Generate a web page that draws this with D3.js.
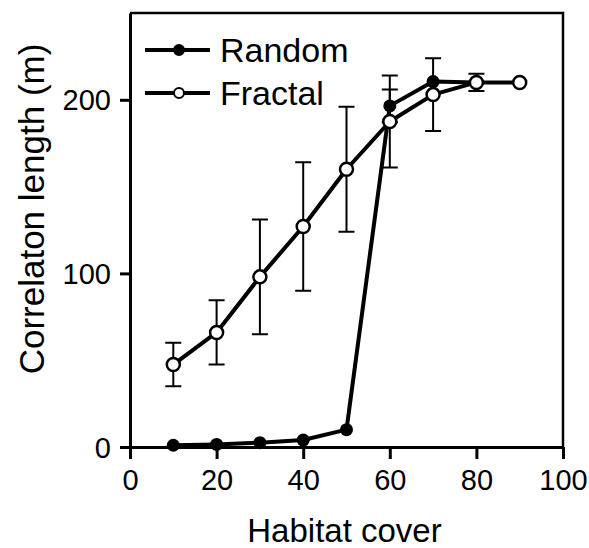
<!DOCTYPE html>
<html>
<head>
<meta charset="utf-8">
<script src="https://cdn.jsdelivr.net/npm/d3@7"></script>
<style>
  html, body { margin: 0; padding: 0; background: #fff; }
  svg { display: block; }
  text { font-family: "Liberation Sans", Arial, sans-serif; fill: #000; }
</style>
</head>
<body>
<svg id="chart" width="589" height="548"></svg>
<script>
// ---- data ----
const habitatCover = [10, 20, 30, 40, 50, 60, 70, 80, 90];
const randomX      = [10, 20, 30, 40, 50, 60, 70, 80];
const randomMean   = [1, 1.5, 2.5, 4, 10, 196.5, 210.5, 210];
const randomErr    = [0, 0, 0, 0, 0, 9.5, 0, 0];
const fractalMean  = [47.5, 66, 98, 127, 160, 187.5, 203, 210, 210];
const fractalErr   = [12.5, 18.5, 33, 37, 36, 26.5, 21, 5, 0];
const xTicks = [0, 20, 40, 60, 80, 100];
const yTicks = [0, 100, 200];
const seriesNames = ["Random", "Fractal"];

// ---- layout ----
const svg = d3.select("#chart");
const mLeft = 130, mRight = 563, mTop = 13, mBottom = 447;
const x = d3.scaleLinear().domain([0, 100]).range([mLeft, mRight]);
const y = d3.scaleLinear().domain([0, 250]).range([mBottom, mTop]);

// frame (top and right)
svg.append("path")
  .attr("d", `M${mLeft},${mTop}H${mRight}V${mBottom}`)
  .attr("fill", "none").attr("stroke", "#000").attr("stroke-width", 2.5);

// axes
const xAxis = svg.append("g").attr("transform", `translate(0,${mBottom})`)
  .call(d3.axisBottom(x).tickValues(xTicks).tickSize(12).tickPadding(10).tickSizeOuter(0));
const yAxis = svg.append("g").attr("transform", `translate(${mLeft},0)`)
  .call(d3.axisLeft(y).tickValues(yTicks).tickSize(10).tickPadding(9).tickSizeOuter(0));
[xAxis, yAxis].forEach(g => {
  g.select(".domain").attr("stroke", "#000").attr("stroke-width", 3);
  g.selectAll(".tick line").attr("stroke", "#000").attr("stroke-width", 3);
  g.selectAll(".tick text").style("font-family", '"Liberation Sans", Arial, sans-serif')
    .style("font-size", "29px").attr("fill", "#000");
});
xAxis.selectAll(".tick text").attr("dy", "0.71em");
yAxis.selectAll(".tick text").attr("dy", "0.35em");

// axis titles
svg.append("text").attr("x", (mLeft + mRight) / 2 - 2).attr("y", 542)
  .attr("text-anchor", "middle").style("font-size", "33px").text("Habitat cover");
svg.append("text").attr("transform", "translate(44,209) rotate(-90)")
  .attr("text-anchor", "middle").style("font-size", "35px").text("Correlaton length (m)");

// error bars
function errorBars(xs, means, errs) {
  const g = svg.append("g").attr("stroke", "#000").attr("stroke-width", 2).attr("fill", "none");
  xs.forEach((xv, i) => {
    if (!errs[i]) return;
    const cx = x(xv), y1 = y(means[i] + errs[i]), y0 = y(means[i] - errs[i]);
    g.append("path").attr("d",
      `M${cx},${y1}V${y0}M${cx - 8},${y1}H${cx + 8}M${cx - 8},${y0}H${cx + 8}`);
  });
}
errorBars(randomX, randomMean, randomErr);
errorBars(habitatCover, fractalMean, fractalErr);

const line = d3.line().x(d => x(d[0])).y(d => y(d[1]));
const randomPts = randomX.map((v, i) => [v, randomMean[i]]);
const fractalPts = habitatCover.map((v, i) => [v, fractalMean[i]]);

// random series
svg.append("path").datum(randomPts).attr("d", line)
  .attr("fill", "none").attr("stroke", "#000").attr("stroke-width", 4).attr("stroke-linejoin", "round");
svg.append("g").selectAll("circle").data(randomPts).join("circle")
  .attr("cx", d => x(d[0])).attr("cy", d => y(d[1])).attr("r", 6.5).attr("fill", "#000");

// fractal series
svg.append("path").datum(fractalPts).attr("d", line)
  .attr("fill", "none").attr("stroke", "#000").attr("stroke-width", 4).attr("stroke-linejoin", "round");
svg.append("g").selectAll("circle").data(fractalPts).join("circle")
  .attr("cx", d => x(d[0])).attr("cy", d => y(d[1])).attr("r", 6.5)
  .attr("fill", "#fff").attr("stroke", "#000").attr("stroke-width", 2.5);

// legend
const legendY = [50, 93];
seriesNames.forEach((name, i) => {
  const g = svg.append("g");
  g.append("line").attr("x1", 145).attr("x2", 210).attr("y1", legendY[i]).attr("y2", legendY[i])
    .attr("stroke", "#000").attr("stroke-width", 4);
  g.append("circle").attr("cx", 179).attr("cy", legendY[i]).attr("r", 5)
    .attr("fill", i === 0 ? "#000" : "#fff").attr("stroke", "#000").attr("stroke-width", 2);
  g.append("text").attr("x", 220).attr("y", legendY[i] + 12)
    .style("font-size", "34px").text(name);
});
</script>
</body>
</html>
